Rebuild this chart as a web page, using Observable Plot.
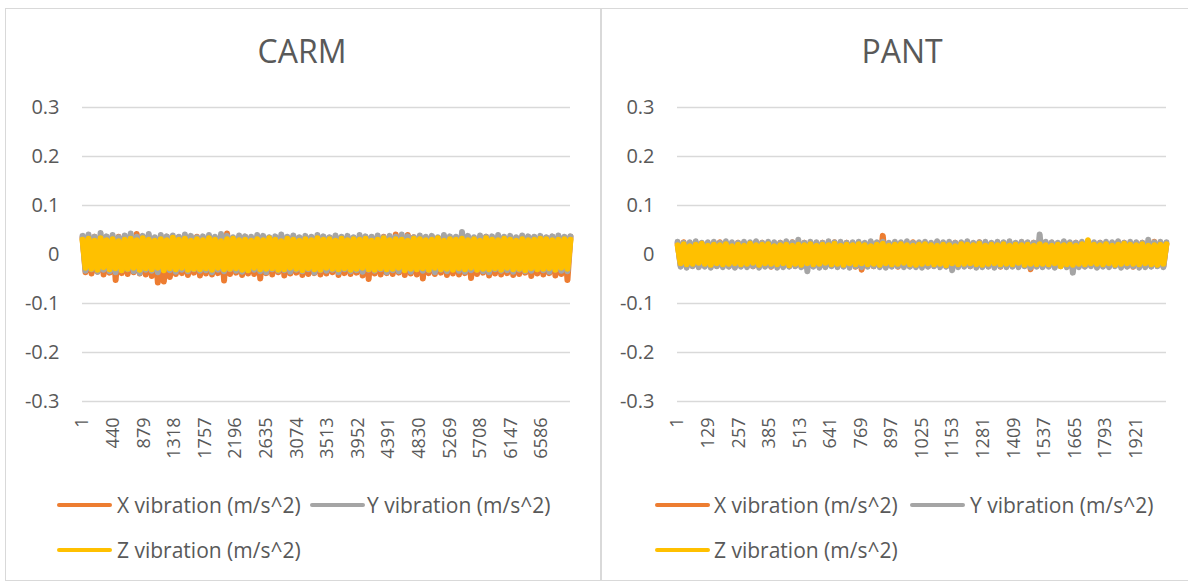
<!DOCTYPE html>
<html><head><meta charset="utf-8">
<script src="https://cdn.jsdelivr.net/npm/d3@7"></script>
<script src="https://cdn.jsdelivr.net/npm/@observablehq/plot@0.6"></script>
<style>
body{margin:0;background:#fff;font-family:"Open Sans",sans-serif;color:#595959}
#root{position:relative;width:1188px;height:583px;overflow:hidden;background:#fff}
.panel{position:absolute;top:8px;height:573px;border:1px solid #d9d9d9;box-sizing:border-box}
.title{position:absolute;top:35px;font-size:32px;line-height:32px;text-align:center;color:#595959;white-space:nowrap}
.plot{position:absolute}
.leg{position:absolute;height:30px;display:flex;align-items:center;font-size:21px;white-space:nowrap;color:#595959}
.sw{position:absolute;height:4px;width:55px;border-radius:2px}
</style>
</head><body><div id="root"></div>
<script>
// ---- data ----
const seriesNames = ["X vibration (m/s^2)", "Y vibration (m/s^2)", "Z vibration (m/s^2)"];
const seriesColors = ["#ED7D31", "#A5A5A5", "#FFC000"];
const yTicks = [0.3, 0.2, 0.1, 0, -0.1, -0.2, -0.3];

const carmTitle = "CARM";
const carmSamples = 7000;
const carmTicks = [1,440,879,1318,1757,2196,2635,3074,3513,3952,4391,4830,5269,5708,6147,6586];
const carmX = [
.034,-.036,.031,-.039,.036,-.035,.033,-.041,.035,-.037,
.032,-.052,.036,-.038,.034,-.040,.030,-.036,.042,-.039,
.035,-.041,.033,-.044,.031,-.057,.034,-.055,.036,-.046,
.033,-.040,.035,-.038,.032,-.042,.034,-.037,.036,-.043,
.031,-.039,.034,-.041,.033,-.038,.035,-.053,.043,-.040,
.032,-.037,.034,-.042,.036,-.039,.031,-.040,.035,-.049,
.033,-.038,.034,-.041,.032,-.036,.035,-.043,.033,-.039,
.036,-.037,.032,-.042,.034,-.040,.033,-.038,.035,-.041,
.031,-.039,.034,-.036,.036,-.042,.032,-.038,.035,-.040,
.033,-.037,.034,-.043,.031,-.050,.035,-.039,.033,-.041,
.036,-.038,.032,-.040,.041,-.037,.034,-.042,.040,-.039,
.035,-.041,.032,-.049,.034,-.038,.036,-.040,.033,-.037,
.035,-.042,.032,-.039,.034,-.041,.033,-.038,.035,-.048,
.032,-.040,.034,-.037,.036,-.043,.031,-.039,.035,-.041,
.033,-.038,.034,-.042,.032,-.040,.036,-.037,.033,-.044,
.035,-.039,.032,-.041,.034,-.038,.036,-.043,.033,-.040,
.034,-.052,.036];
const carmY = [
.038,-.033,.041,-.030,.036,-.035,.044,-.031,.037,-.034,
.040,-.036,.035,-.032,.039,-.030,.043,-.034,.036,-.038,
.038,-.031,.042,-.033,.035,-.036,.040,-.030,.037,-.032,
.039,-.035,.036,-.031,.041,-.034,.038,-.030,.035,-.033,
.037,-.032,.040,-.036,.036,-.031,.042,-.034,.038,-.030,
.035,-.033,.039,-.035,.037,-.032,.036,-.031,.040,-.034,
.038,-.036,.035,-.030,.037,-.033,.041,-.032,.036,-.035,
.039,-.031,.035,-.034,.038,-.030,.036,-.037,.040,-.032,
.037,-.033,.035,-.031,.039,-.036,.036,-.030,.038,-.034,
.035,-.032,.040,-.035,.037,-.031,.036,-.033,.039,-.030,
.035,-.036,.038,-.032,.036,-.034,.041,-.031,.037,-.035,
.035,-.030,.039,-.033,.036,-.032,.038,-.036,.035,-.031,
.040,-.034,.037,-.030,.036,-.033,.046,-.035,.038,-.032,
.035,-.031,.039,-.034,.036,-.036,.037,-.030,.040,-.033,
.036,-.032,.038,-.035,.035,-.031,.039,-.034,.037,-.033,
.036,-.030,.038,-.032,.035,-.035,.037,-.031,.039,-.033,
.036,-.034,.037];
const carmZ = [
.030,-.027,.032,-.029,.028,-.031,.033,-.026,.029,-.030,
.031,-.028,.027,-.032,.030,-.029,.032,-.027,.029,-.031,
.033,-.028,.030,-.030,.028,-.027,.031,-.032,.029,-.028,
.034,-.030,.030,-.027,.032,-.031,.028,-.029,.031,-.030,
.029,-.028,.033,-.031,.030,-.027,.027,-.030,.031,-.029,
.032,-.028,.029,-.031,.030,-.032,.028,-.027,.031,-.030,
.029,-.029,.033,-.028,.030,-.031,.027,-.030,.032,-.027,
.030,-.029,.028,-.032,.031,-.028,.029,-.030,.033,-.031,
.030,-.027,.031,-.029,.028,-.030,.032,-.028,.029,-.031,
.031,-.029,.030,-.027,.032,-.030,.028,-.031,.030,-.028,
.033,-.030,.029,-.029,.031,-.027,.030,-.032,.028,-.029,
.032,-.030,.031,-.028,.029,-.031,.030,-.027,.033,-.030,
.028,-.029,.031,-.031,.030,-.028,.032,-.030,.029,-.027,
.031,-.031,.028,-.029,.033,-.030,.030,-.028,.029,-.031,
.032,-.027,.030,-.030,.028,-.029,.031,-.032,.029,-.028,
.030,-.030,.032,-.029,.031,-.028,.029,-.031,.030,-.027,
.031,-.029,.030];

const pantTitle = "PANT";
const pantSamples = 2048;
const pantTicks = [1,129,257,385,513,641,769,897,1025,1153,1281,1409,1537,1665,1793,1921];
const pantX = [
.023,-.022,.025,-.024,.022,-.023,.024,-.025,.023,-.022,
.022,-.024,.024,-.023,.025,-.022,.023,-.024,.022,-.025,
.024,-.023,.023,-.022,.022,-.024,.025,-.023,.024,-.022,
.023,-.025,.022,-.023,.024,-.022,.023,-.024,.025,-.023,
.022,-.024,.024,-.022,.023,-.023,.022,-.025,.024,-.024,
.023,-.022,.025,-.024,.022,-.023,.024,-.022,.023,-.025,
.024,-.031,.022,-.023,.025,-.024,.023,-.022,.038,-.024,
.022,-.023,.024,-.025,.023,-.022,.022,-.024,.025,-.023,
.023,-.022,.024,-.024,.022,-.023,.025,-.022,.023,-.024,
.022,-.025,.024,-.023,.023,-.022,.024,-.024,.022,-.023,
.025,-.022,.023,-.024,.022,-.023,.024,-.025,.023,-.022,
.024,-.023,.022,-.024,.025,-.022,.023,-.030,.024,-.023,
.022,-.024,.023,-.022,.024,-.025,.022,-.023,.025,-.024,
.023,-.022,.024,-.023,.022,-.024,.026,-.022,.023,-.025,
.024,-.023,.022,-.024,.023,-.022,.025,-.023,.024,-.024,
.022,-.025,.023,-.022,.024,-.023,.022,-.024,.026,-.022,
.023,-.024,.022];
const pantY = [
.026,-.025,.024,-.027,.025,-.024,.027,-.026,.024,-.025,
.025,-.027,.026,-.024,.024,-.026,.027,-.025,.025,-.027,
.024,-.025,.026,-.026,.025,-.024,.027,-.027,.024,-.025,
.026,-.024,.025,-.027,.024,-.026,.027,-.025,.025,-.024,
.030,-.026,.024,-.034,.026,-.025,.025,-.027,.024,-.026,
.027,-.024,.025,-.026,.026,-.025,.024,-.027,.025,-.024,
.026,-.026,.024,-.025,.027,-.024,.025,-.026,.026,-.027,
.024,-.025,.026,-.024,.025,-.026,.027,-.025,.024,-.026,
.025,-.027,.026,-.025,.024,-.024,.027,-.026,.025,-.025,
.026,-.032,.024,-.026,.025,-.025,.027,-.024,.024,-.027,
.025,-.026,.026,-.025,.024,-.027,.026,-.024,.025,-.026,
.027,-.025,.024,-.026,.026,-.024,.025,-.027,.024,-.025,
.041,-.026,.026,-.025,.025,-.027,.024,-.024,.027,-.026,
.025,-.037,.024,-.026,.026,-.025,.027,-.024,.025,-.027,
.024,-.025,.026,-.026,.025,-.024,.027,-.027,.024,-.025,
.026,-.024,.025,-.027,.024,-.026,.030,-.025,.025,-.024,
.026,-.026,.025];
const pantZ = [
.019,-.018,.021,-.020,.017,-.019,.020,-.017,.022,-.019,
.018,-.021,.020,-.018,.019,-.020,.021,-.019,.017,-.018,
.020,-.020,.018,-.019,.022,-.017,.019,-.021,.020,-.018,
.021,-.019,.017,-.020,.019,-.018,.020,-.022,.018,-.019,
.020,-.021,.019,-.018,.021,-.020,.018,-.019,.020,-.017,
.019,-.020,.022,-.019,.018,-.021,.020,-.018,.019,-.020,
.021,-.018,.019,-.020,.017,-.019,.020,-.021,.022,-.018,
.018,-.020,.020,-.019,.021,-.017,.019,-.020,.018,-.021,
.020,-.019,.021,-.018,.019,-.020,.018,-.019,.020,-.022,
.019,-.018,.017,-.020,.021,-.019,.020,-.018,.019,-.020,
.022,-.021,.018,-.019,.020,-.018,.019,-.020,.021,-.019,
.018,-.020,.020,-.017,.019,-.021,.020,-.019,.018,-.020,
.021,-.019,.019,-.020,.018,-.018,.020,-.024,.019,-.020,
.020,-.021,.018,-.019,.021,-.020,.029,-.018,.020,-.019,
.019,-.020,.021,-.018,.018,-.021,.020,-.019,.022,-.018,
.020,-.019,.019,-.020,.021,-.018,.018,-.020,.019,-.021,
.020,-.019,.021];

// ---- layout ----
const root = document.getElementById("root");
function el(tag, cls, style, text){
  const e = document.createElement(tag);
  if (cls) e.className = cls;
  Object.assign(e.style, style || {});
  if (text != null) e.textContent = text;
  root.appendChild(e);
  return e;
}

el("div","panel",{left:"5px",width:"596px"});
el("div","panel",{left:"601px",width:"600px"});

function toRows(values, samples){
  const n = values.length;
  return values.map((v, i) => ({sample: 1 + i * (samples - 1) / (n - 1), v}));
}

function drawPanel(cfg){
  el("div","title",{left:(cfg.titleCx-150)+"px",width:"300px"}, cfg.title);
  const width = 595, height = 380;
  const marks = [
    Plot.gridY(yTicks, {stroke:"#d9d9d9", strokeOpacity:1, strokeWidth:1.5}),
    Plot.axisY(yTicks, {label:null, tickSize:0, tickPadding:23, fontSize:20, fill:"#595959",
      tickFormat: d => d === 0 ? "0" : d.toFixed(1)}),
    Plot.axisX(cfg.ticks, {label:null, tickSize:0, tickRotate:-90, tickPadding:16, fontSize:18, fill:"#595959",
      tickFormat: d => String(d)})
  ];
  cfg.series.forEach((vals, k) => {
    marks.push(Plot.line(toRows(vals, cfg.samples), {x:"sample", y:"v", stroke:seriesColors[k], strokeWidth:6}));
  });
  const svg = Plot.plot({
    width, height,
    marginLeft: cfg.marginLeft, marginRight: cfg.marginRight, marginTop:17, marginBottom:69,
    style:{fontFamily:"'Open Sans',sans-serif", color:"#595959", background:"transparent", overflow:"visible"},
    x:{domain:[0.5, cfg.samples + 0.5], label:null},
    y:{domain:[-0.3, 0.3], label:null},
    marks
  });
  svg.classList.add("plot");
  svg.style.position = "absolute";
  svg.style.left = cfg.left + "px";
  svg.style.top = "90px";
  root.appendChild(svg);

  // legend
  cfg.legend.forEach(([k, sx, tx, cy]) => {
    el("div","sw",{left:sx+"px", top:(cy-2)+"px", background:seriesColors[k]});
    el("div","leg",{left:tx+"px", top:(cy-15)+"px"}, seriesNames[k]);
  });
}

drawPanel({title:carmTitle, titleCx:302, left:0, marginLeft:82, marginRight:25,
  samples:carmSamples, ticks:carmTicks, series:[carmX, carmY, carmZ],
  legend:[[0,57,117,505],[1,310,367,505],[2,57,117,550]]});
drawPanel({title:pantTitle, titleCx:902, left:595, marginLeft:82, marginRight:24,
  samples:pantSamples, ticks:pantTicks, series:[pantX, pantY, pantZ],
  legend:[[0,655,714,505],[1,910,970,505],[2,655,714,550]]});
</script>
</body></html>
